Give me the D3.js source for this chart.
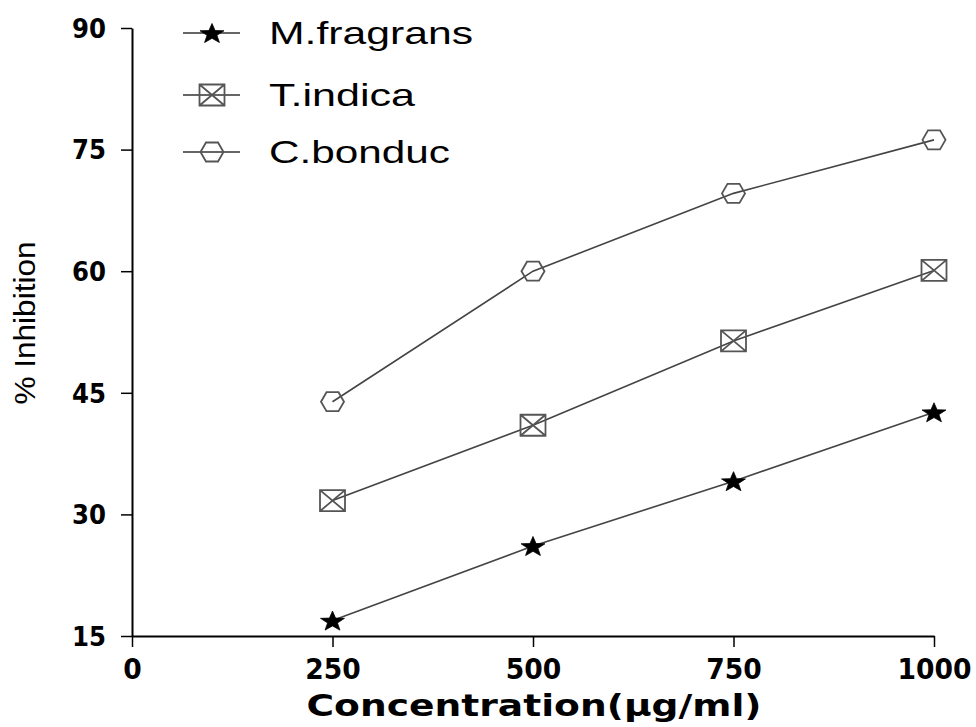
<!DOCTYPE html>
<html>
<head>
<meta charset="utf-8">
<script src="https://cdn.jsdelivr.net/npm/d3@7"></script>
<style>
  html, body { margin: 0; padding: 0; background: #fff; }
  svg { display: block; }
</style>
</head>
<body>
<svg id="chart" width="976" height="727"></svg>
<script>
// ---- data ----
const concentrations = [250, 500, 750, 1000];
const seriesNames = ["M.fragrans", "T.indica", "C.bonduc"];
const mFragrans = [16.9, 26.1, 34.1, 42.6];
const tIndica   = [31.7, 41.0, 51.4, 60.1];
const cBonduc   = [43.9, 60.0, 69.6, 76.2];
const xTicks = [0, 250, 500, 750, 1000];
const yTicks = [15, 30, 45, 60, 75, 90];
const xTitle = "Concentration(\u00b5g/ml)";
const yTitle = "% Inhibition";

const seriesValues = [mFragrans, tIndica, cBonduc];
const markerTypes = ["star", "box", "hex"];

const svg = d3.select("#chart");
const x = d3.scaleLinear().domain([0, 1000]).range([132, 934]);
const y = d3.scaleLinear().domain([15, 90]).range([636, 28]);

// ---- marker shapes ----
function markerPath(type) {
  if (type === "star") {
    const pts = [];
    for (let i = 0; i < 10; i++) {
      const r = i % 2 === 0 ? 10.5 : 4.3;
      const a = -Math.PI / 2 + i * Math.PI / 5;
      pts.push([r * Math.cos(a) * 1.2, r * Math.sin(a) + 1]);
    }
    return "M" + pts.map(p => p.join(",")).join("L") + "Z";
  }
  if (type === "box") {
    const w = 12.5, h = 10.5;
    return `M${-w},${-h}H${w}V${h}H${-w}Z M${-w},${-h}L${w},${h} M${w},${-h}L${-w},${h}`;
  }
  // hexagon, pointy left/right, flat top/bottom
  const w = 11.5, h = 9.5, s = 6;
  return `M${-w},0L${-s},${-h}H${s}L${w},0L${s},${h}H${-s}Z`;
}
function styleMarker(sel, type) {
  if (type === "star") sel.attr("fill", "#000").attr("stroke", "#000").attr("stroke-width", 0.8);
  else sel.attr("fill", "none").attr("stroke", "#555").attr("stroke-width", 1.8);
}

const boldFont = "DejaVu Sans, Liberation Sans, Arial, sans-serif";

// ---- axes ----
const yAxis = svg.append("g").attr("transform", `translate(${x(0)},0)`)
  .call(d3.axisLeft(y).tickValues(yTicks).tickSize(11).tickSizeOuter(0).tickFormat(d3.format("d")));
yAxis.select(".domain").attr("stroke", "#000").attr("stroke-width", 2);
yAxis.selectAll(".tick line").attr("stroke", "#000").attr("stroke-width", 1.5);
yAxis.selectAll(".tick text")
  .attr("x", -26).attr("dy", "0.36em")
  .attr("font-family", boldFont)
  .attr("font-weight", "bold").attr("font-size", 26).attr("fill", "#000")
  .attr("textLength", 34).attr("lengthAdjust", "spacingAndGlyphs");

const xAxis = svg.append("g").attr("transform", `translate(0,${y(15)})`)
  .call(d3.axisBottom(x).tickValues(xTicks).tickSize(11).tickSizeOuter(0).tickFormat(d3.format("d")));
xAxis.select(".domain").attr("stroke", "#000").attr("stroke-width", 2);
xAxis.selectAll(".tick line").attr("stroke", "#000").attr("stroke-width", 1.5);
xAxis.selectAll(".tick text")
  .attr("y", 43).attr("dy", 0)
  .attr("font-family", boldFont)
  .attr("font-weight", "bold").attr("font-size", 28).attr("fill", "#000")
  .attr("textLength", d => String(d).length * 18.5).attr("lengthAdjust", "spacingAndGlyphs");

// axis titles
svg.append("text")
  .attr("x", 534).attr("y", 716).attr("text-anchor", "middle")
  .attr("font-family", boldFont)
  .attr("font-weight", "bold").attr("font-size", 31).attr("fill", "#000")
  .attr("textLength", 455).attr("lengthAdjust", "spacingAndGlyphs")
  .text(xTitle);

svg.append("text")
  .attr("transform", "translate(35,323) rotate(-90)")
  .attr("text-anchor", "middle")
  .attr("font-family", "Liberation Sans, Arial, sans-serif")
  .attr("font-size", 30).attr("fill", "#000")
  .attr("textLength", 163).attr("lengthAdjust", "spacingAndGlyphs")
  .text(yTitle);

// ---- series ----
const line = d3.line().x((d, i) => x(concentrations[i])).y(d => y(d));
seriesValues.forEach((vals, si) => {
  const g = svg.append("g").attr("class", "series");
  g.append("path").attr("d", line(vals))
    .attr("fill", "none").attr("stroke", "#444").attr("stroke-width", 1.6);
  g.selectAll("path.m").data(vals).join("path").attr("class", "m")
    .attr("transform", (d, i) => `translate(${x(concentrations[i])},${y(d)})`)
    .attr("d", markerPath(markerTypes[si]))
    .call(styleMarker, markerTypes[si]);
});

// ---- legend ----
const legendY = [33, 95, 152];
const legendW = [204, 146, 181];
const lg = svg.append("g");
seriesNames.forEach((name, i) => {
  const row = lg.append("g").attr("transform", `translate(0,${legendY[i]})`);
  row.append("line").attr("x1", 183).attr("x2", 240).attr("y1", 0).attr("y2", 0)
    .attr("stroke", "#333").attr("stroke-width", 1.5);
  row.append("path").attr("transform", "translate(212,0)")
    .attr("d", markerPath(markerTypes[i])).call(styleMarker, markerTypes[i]);
  row.append("text").attr("x", 269).attr("y", 11)
    .attr("font-family", "Liberation Sans, Arial, sans-serif")
    .attr("font-size", 32).attr("fill", "#000")
    .attr("textLength", legendW[i]).attr("lengthAdjust", "spacingAndGlyphs")
    .text(name);
});
</script>
</body>
</html>
